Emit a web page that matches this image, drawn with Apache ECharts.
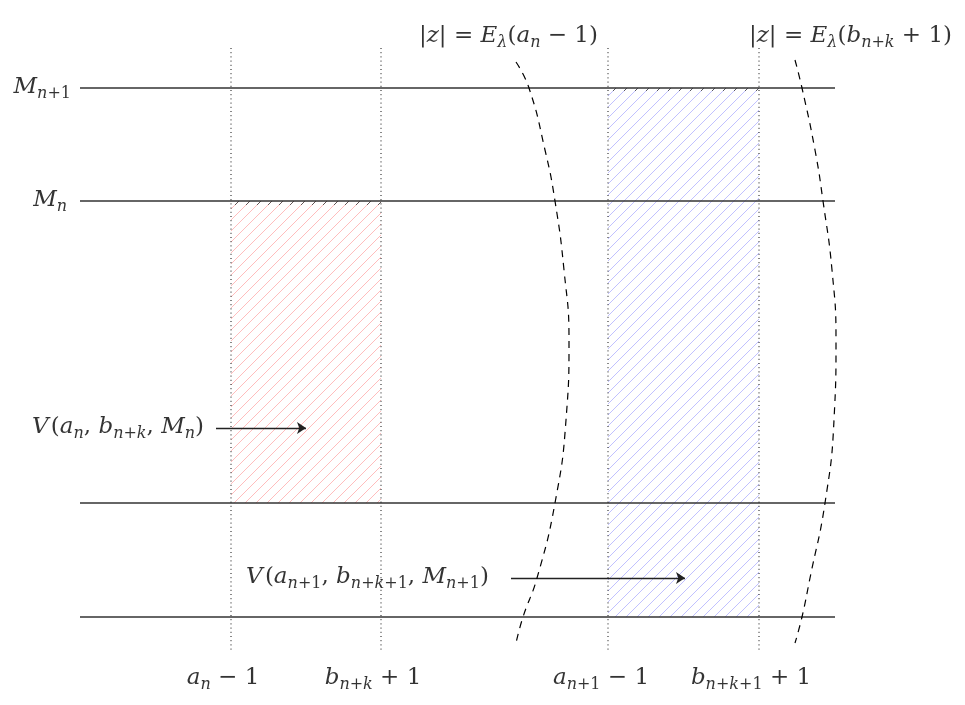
<!DOCTYPE html>
<html>
<head>
<meta charset="utf-8">
<title>V regions</title>
<script src="https://cdn.jsdelivr.net/npm/echarts@6/dist/echarts.min.js"></script>
<style>
  html, body { margin: 0; padding: 0; background: #fff; }
  #main { width: 965px; height: 705px; }
</style>
</head>
<body>
<div id="main"></div>
<script>
// diagram units: 0..965 across, 0..705 down (y axis is inverted)
const levelY = [88, 201, 503, 617];          // M_{n+1}, M_n and the two lower levels
const levelX = [80, 835];
const markX = [231, 381, 608, 759];          // a_n-1, b_{n+k}+1, a_{n+1}-1, b_{n+k+1}+1
const markY = [48, 650];
const redBox = [231, 381, 201, 503];         // x0, x1, y0, y1
const blueBox = [608, 759, 88, 617];
const curveA = [[516, 62], [529, 88], [545, 150], [555, 201], [564, 270], [569, 340],
                [566, 420], [555, 503], [537, 578], [523, 617], [516, 643]];
const curveB = [[795, 60], [802, 88], [815, 150], [823, 201], [832, 270], [836, 340],
                [834, 420], [825, 503], [810, 578], [802, 617], [795, 643]];
const arrows = [
  [[216, 428], [306, 428]],
  [[511, 578], [685, 578]]
];
const labels = [
  { pos: [71, 87],  align: 'right',  text: '{i|M}{si|n}{sr|+1}' },
  { pos: [67, 200], align: 'right',  text: '{i|M}{si|n}' },
  { pos: [204, 427], align: 'right', text: '{i|V\u200a}{r|(}{i|a}{si|n}{r|, }{i|b}{si|n}{sr|+}{si|k}{r|, }{i|M}{si|n}{r|)}' },
  { pos: [246, 577], align: 'left',  text: '{i|V\u200a}{r|(}{i|a}{si|n}{sr|+1}{r|, }{i|b}{si|n}{sr|+}{si|k}{sr|+1}{r|, }{i|M}{si|n}{sr|+1}{r|)}' },
  { pos: [419, 36], align: 'left',   text: '{r||}{i|z}{r|| = }{i|E}{si|λ}{r|(}{i|a}{si|n}{r| − 1)}' },
  { pos: [749, 36], align: 'left',   text: '{r||}{i|z}{r|| = }{i|E}{si|λ}{r|(}{i|b}{si|n}{sr|+}{si|k}{r| + 1)}' },
  { pos: [223, 678], align: 'center', text: '{i|a}{si|n}{r| − 1}' },
  { pos: [373, 678], align: 'center', text: '{i|b}{si|n}{sr|+}{si|k}{r| + 1}' },
  { pos: [601, 678], align: 'center', text: '{i|a}{si|n}{sr|+1}{r| − 1}' },
  { pos: [751, 678], align: 'center', text: '{i|b}{si|n}{sr|+}{si|k}{sr|+1}{r| + 1}' }
];

// north east lines pattern
function hatch(color, width) {
  const s = 11;
  const c = document.createElement('canvas');
  c.width = s; c.height = s;
  const g = c.getContext('2d');
  g.strokeStyle = color;
  g.lineWidth = width;
  g.beginPath();
  g.moveTo(0, s); g.lineTo(s, 0);
  g.moveTo(-2, 2); g.lineTo(2, -2);
  g.moveTo(s - 2, s + 2); g.lineTo(s + 2, s - 2);
  g.stroke();
  return { image: c, repeat: 'repeat' };
}

const redFill = hatch('rgba(255,70,70,0.4)', 0.9);
const blueFill = hatch('rgba(80,80,255,0.4)', 0.9);
const greyFill = hatch('rgba(60,60,60,0.8)', 1);

const font = 'DejaVu Serif';
const rich = {
  i:  { fontFamily: font, fontStyle: 'italic', fontSize: 23, lineHeight: 30, verticalAlign: 'middle', color: '#000' },
  r:  { fontFamily: font, fontSize: 23, lineHeight: 30, verticalAlign: 'middle', color: '#000' },
  si: { fontFamily: font, fontStyle: 'italic', fontSize: 16, lineHeight: 16, verticalAlign: 'bottom', color: '#000' },
  sr: { fontFamily: font, fontSize: 16, lineHeight: 16, verticalAlign: 'bottom', color: '#000' }
};

function boxSeries(box, fill) {
  return {
    type: 'custom',
    silent: true,
    data: [box],
    renderItem: function (params, api) {
      const p0 = api.coord([api.value(0), api.value(2)]);
      const p1 = api.coord([api.value(1), api.value(3)]);
      return {
        type: 'rect',
        shape: { x: p0[0], y: p0[1], width: p1[0] - p0[0], height: p1[1] - p0[1] },
        style: { fill: fill, stroke: null }
      };
    }
  };
}

function plainLine(data, style) {
  return { type: 'line', data: data, symbol: 'none', silent: true, lineStyle: style };
}

const series = [];
series.push(boxSeries(redBox, redFill));
series.push(boxSeries(blueBox, blueFill));
series.push(boxSeries([redBox[0], redBox[1], redBox[2], redBox[2] + 4], greyFill));
series.push(boxSeries([blueBox[0], blueBox[1], blueBox[2], blueBox[2] + 3], greyFill));

levelY.forEach(function (y) {
  series.push(plainLine([[levelX[0], y], [levelX[1], y]], { color: '#333', width: 1.3 }));
});
markX.forEach(function (x) {
  series.push(plainLine([[x, markY[0]], [x, markY[1]]], { color: '#111', width: 1, type: [1, 3.2] }));
});
[curveA, curveB].forEach(function (c) {
  series.push({
    type: 'line', data: c, symbol: 'none', smooth: true, silent: true,
    lineStyle: { color: '#000', width: 1.2, type: [7, 6] }
  });
});

series.push({
  type: 'lines',
  coordinateSystem: 'cartesian2d',
  silent: true,
  symbol: ['none', 'arrow'],
  symbolSize: [0, 9],
  lineStyle: { color: '#222', width: 1.3, opacity: 1 },
  data: arrows.map(function (a) { return { coords: a }; })
});

series.push({
  type: 'scatter',
  symbolSize: 0,
  silent: true,
  data: labels.map(function (l) {
    return {
      value: l.pos,
      label: { show: true, position: 'inside', align: l.align, verticalAlign: 'middle', formatter: l.text, rich: rich }
    };
  })
});

const chart = echarts.init(document.getElementById('main'));
chart.setOption({
  animation: false,
  backgroundColor: '#fff',
  grid: { left: 0, right: 0, top: 0, bottom: 0 },
  xAxis: { type: 'value', min: 0, max: 965, show: false },
  yAxis: { type: 'value', min: 0, max: 705, inverse: true, show: false },
  series: series
});
</script>
</body>
</html>
